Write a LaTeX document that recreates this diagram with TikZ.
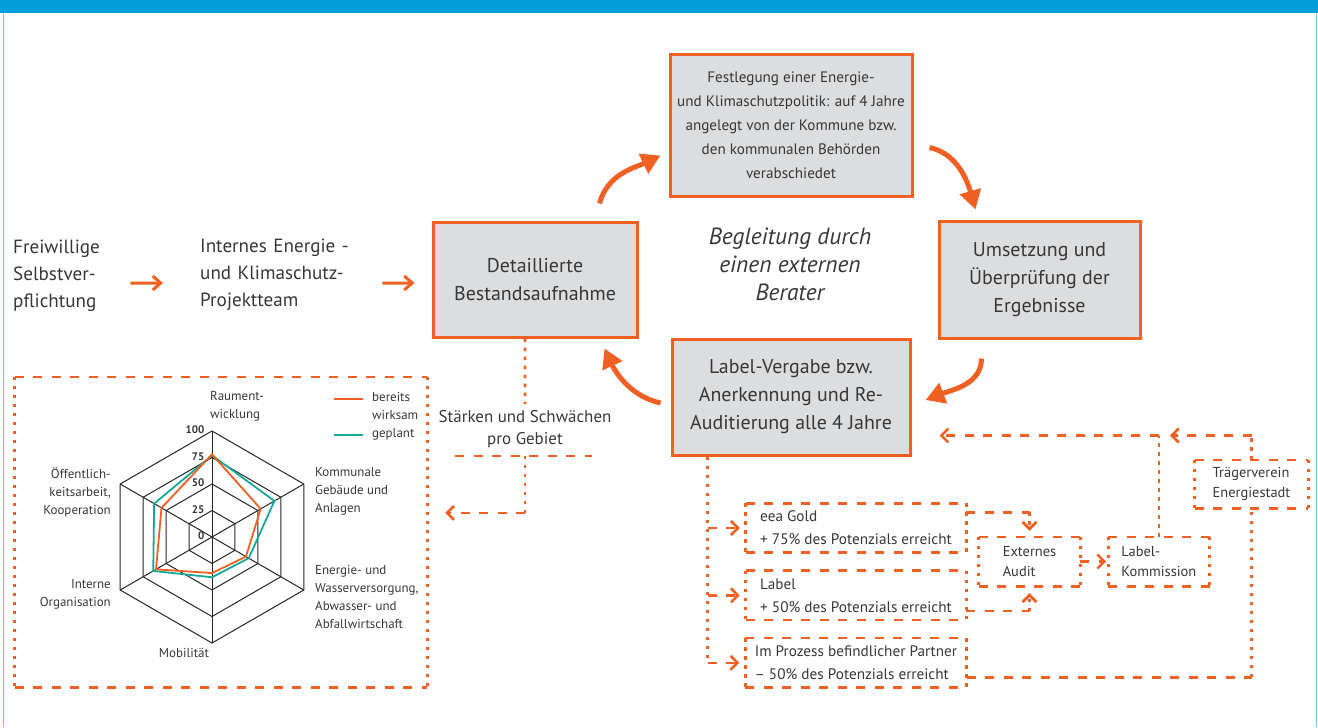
\documentclass[tikz,border=0pt]{standalone}
\usepackage{fontspec}
\setmainfont{PT Sans}
\usetikzlibrary{arrows.meta, positioning}

\definecolor{eeaorange}{RGB}{240,96,34}
\definecolor{eeablue}{RGB}{4,159,218}
\definecolor{eeaframe}{RGB}{125,196,234}
\definecolor{eeagrey}{RGB}{220,221,223}
\definecolor{eeatext}{RGB}{55,55,55}
\definecolor{eeateal}{RGB}{22,168,150}

\newcommand{\dashframe}[1]{%
  \draw[hdash] (#1.north west) -- (#1.north east) (#1.south west) -- (#1.south east);
  \draw[vdots] (#1.north west) -- (#1.south west) (#1.north east) -- (#1.south east);}

\begin{document}
\begin{tikzpicture}[x=1bp, y=1bp,
    every node/.append style={text=eeatext},
    phasebox/.style={rectangle, draw=eeaorange, line width=3bp, fill=eeagrey, align=center, inner sep=0pt, font=\fontsize{20}{28}\selectfont},
    plaintext/.style={align=left, inner sep=0pt, font=\fontsize{19.2}{27}\selectfont},
    dashbox/.style={rectangle, align=left, inner sep=0pt, minimum height=49bp, font=\fontsize{15.3}{23}\selectfont},
    smallbox/.style={dashbox, minimum width=101bp, font=\fontsize{14.5}{20}\selectfont},
    axislabel/.style={align=left, inner sep=0pt, font=\fontsize{13}{18}\selectfont},
    ringlabel/.style={inner sep=0pt, anchor=east, font=\fontsize{11}{12}\selectfont\bfseries},
    hdash/.style={eeaorange, line width=2.6bp, dash pattern=on 9bp off 9.5bp},
    vdots/.style={eeaorange, line width=2.8bp, dash pattern=on 3.5bp off 5.5bp},
    barb/.style={-{Straight Barb[length=7bp, width=14bp]}},
    leadarrow/.style={eeaorange, line width=3bp, -{Straight Barb[length=8bp, width=14bp]}},
    cyclearrow/.style={eeaorange, line width=5bp, -{Triangle[length=19bp, width=21bp]}},
    radargrid/.style={black!85, line width=1bp},
  ]

\useasboundingbox (0,0) rectangle (1318,-727);
\fill[eeablue] (0,0) rectangle (1318,-13.5);
\draw[eeaframe, line width=1.3bp] (3.5,-13.5) -- (3.5,-727) (1316.5,-13.5) -- (1316.5,-727);

\node[plaintext, anchor=west, text width=110bp] (freiwillig) at (13,-276) {Freiwillige\\Selbstver-\\pflichtung};
\node[plaintext, anchor=west, text width=175bp] (internes) at (200,-275) {Internes Energie -\\und Klimaschutz-\\Projektteam};

\node[phasebox, minimum width=242bp, minimum height=141bp, font=\fontsize{15.2}{24}\selectfont] (festlegung) at (791,-125.5) {Festlegung einer Energie-\\und Klimaschutzpolitik: auf 4 Jahre\\angelegt von der Kommune bzw.\\den kommunalen Behörden\\verabschiedet};
\node[phasebox, minimum width=204bp, minimum height=115bp] (detail) at (535,-279.5) {Detaillierte\\Bestandsaufnahme};
\node[phasebox, minimum width=201bp, minimum height=117bp] (umsetzung) at (1039.5,-279.5) {Umsetzung und\\Überprüfung der\\Ergebnisse};
\node[phasebox, minimum width=238bp, minimum height=116bp] (vergabe) at (791,-397) {Label-Vergabe bzw.\\Anerkennung und Re-\\Auditierung alle 4 Jahre};
\node[align=center, font=\fontsize{23.5}{28}\selectfont\itshape] (berater) at (790,-264) {Begleitung durch\\einen externen\\Berater};

\draw[leadarrow, shorten <=7bp, shorten >=37bp] ([yshift=-7bp]freiwillig.east) -- ([yshift=-8bp]internes.west);
\draw[leadarrow, shorten <=7bp, shorten >=17bp] ([yshift=-8bp]internes.east) -- ([yshift=-3.5bp]detail.west);

\draw[cyclearrow] ([xshift=-39bp,yshift=17bp]detail.north east) .. controls +(8,30) and +(-25,-12) .. ([xshift=-8bp,yshift=-30bp]festlegung.west);
\draw[cyclearrow] ([xshift=16bp,yshift=-22bp]festlegung.east) .. controls +(28,-6) and +(-8,28) .. ([xshift=38bp,yshift=10bp]umsetzung.north west);
\draw[cyclearrow] ([xshift=44bp,yshift=-19bp]umsetzung.south west) .. controls +(0,-26) and +(26,10) .. ([xshift=14bp,yshift=-3bp]vergabe.east);
\draw[cyclearrow] ([xshift=-10bp,yshift=-6bp]vergabe.west) .. controls +(-28,6) and +(12,-26) .. ([xshift=-34bp,yshift=-10bp]detail.south east);

% Stärken/Schwächen-Profil
\node[minimum width=412bp, minimum height=310bp, inner sep=0pt] (radarbox) at (221,-532) {};
\begin{scope}[shift={(212,-537)}, x=1.06bp, y=1.06bp]
  \foreach \r in {25,50,75,100}
    \draw[radargrid] (90:\r) -- (30:\r) -- (-30:\r) -- (-90:\r) -- (-150:\r) -- (150:\r) -- cycle;
  \foreach \a in {90,30,...,-210}
    \draw[radargrid] (0,0) -- (\a:100);
  \foreach \v in {0,25,50,75,100}
    \node[ringlabel] at (-7,\v+1) {\v};
  \draw[eeateal, line width=1.8bp] (90:77) -- (30:68) -- (-30:40) -- (-90:38) -- (-150:64) -- (150:63) -- cycle;
  \draw[eeaorange, line width=1.8bp] (90:78) -- (30:53) -- (-30:37) -- (-90:34) -- (-150:61) -- (150:55) -- cycle;
\end{scope}

\node[axislabel, anchor=west] (raum) at (210,-406) {Raument-\\wicklung};
\node[axislabel, anchor=west] (kommunal) at (315,-491) {Kommunale\\Gebäude und\\Anlagen};
\node[axislabel, anchor=west] (energie) at (315,-597) {Energie- und\\Wasserversorgung,\\Abwasser- und\\Abfallwirtschaft};
\node[axislabel] (mobil) at (184,-653) {Mobilität};
\node[axislabel, anchor=east, align=right] (intern) at (111,-594) {Interne\\Organisation};
\node[axislabel, anchor=east, align=right] (oeffentlich) at (111,-492) {Öffentlich-\\keitsarbeit,\\Kooperation};
\node[axislabel, anchor=west] (legende) at (372,-416) {bereits\\wirksam\\geplant};
\draw[eeaorange, line width=1.6bp] (334,-399) -- (363,-399);
\draw[eeateal, line width=1.6bp] (334,-435) -- (363,-435);

\node[align=center, inner sep=0pt, font=\fontsize{17}{22}\selectfont] (staerken) at (525,-429) {Stärken und Schwächen\\pro Gebiet};
\draw[vdots] ([xshift=-10bp]detail.south) -- ([yshift=6bp]staerken.north);
\coordinate (split) at ([yshift=-8bp]staerken.south);
\draw[hdash] ([xshift=-70bp]split) -- ([xshift=67bp]split);
\draw[vdots] (split) -- ++(0,-57) coordinate (elbow);
\draw[hdash, barb, shorten >=18bp] (elbow) -- (elbow -| radarbox.east);

% Auszeichnung
\node[dashbox, minimum width=220bp] (eeagold) at (856,-528) {eea Gold\\+ 75\% des Potenzials erreicht};
\node[dashbox, minimum width=220bp, below=18bp of eeagold] (eealabel) {Label\\+ 50\% des Potenzials erreicht};
\node[dashbox, minimum width=221bp, below=18bp of eealabel] (partner) {Im Prozess befindlicher Partner\\– 50\% des Potenzials erreicht};
\node[smallbox] (audit) at (1029.5,-561.5) {Externes\\Audit};
\node[smallbox, right=28bp of audit] (kommission) {Label-\\Kommission};
\node[smallbox, minimum width=113bp, minimum height=48bp] (traeger) at (1251.5,-484) {Trägerverein\\Energiestadt};

\foreach \n in {radarbox,eeagold,eealabel,partner,audit,kommission,traeger}
  \dashframe{\n};

\coordinate (trunk) at ([xshift=37bp]vergabe.south west);
\draw[vdots] (trunk) -- (trunk |- partner.west);
\foreach \b in {eeagold,eealabel,partner}
  \draw[hdash, barb, shorten >=6bp] (trunk |- \b.west) -- (\b.west);

\coordinate (g) at ([yshift=-9bp]eeagold.north east);
\draw[hdash] (g) -- (g -| audit.north);
\draw[vdots, barb, shorten >=6bp] (g -| audit.north) -- (audit.north);
\coordinate (l) at ([yshift=9bp]eealabel.south east);
\draw[hdash] (l) -- (l -| audit.south);
\draw[vdots, barb, shorten >=7bp] (l -| audit.south) -- (audit.south);
\draw[hdash, barb, shorten >=2bp] (audit.east) -- (kommission.west);

\coordinate (back) at ([xshift=28bp,yshift=21bp]vergabe.south east);
\coordinate (kback) at (kommission.north |- back);
\draw[vdots] (kommission.north) -- (kback);
\draw[hdash, barb] (kback) -- (back);
\draw[vdots] (traeger.north) -- (traeger.north |- back);
\draw[hdash, barb] (traeger.north |- back) -- ([xshift=11bp]kback);

\coordinate (p) at ([yshift=-14.5bp]partner.east);
\draw[hdash] (p) -- (p -| traeger.south);
\draw[vdots] (p -| traeger.south) -- (traeger.south);
\end{tikzpicture}
\end{document}
